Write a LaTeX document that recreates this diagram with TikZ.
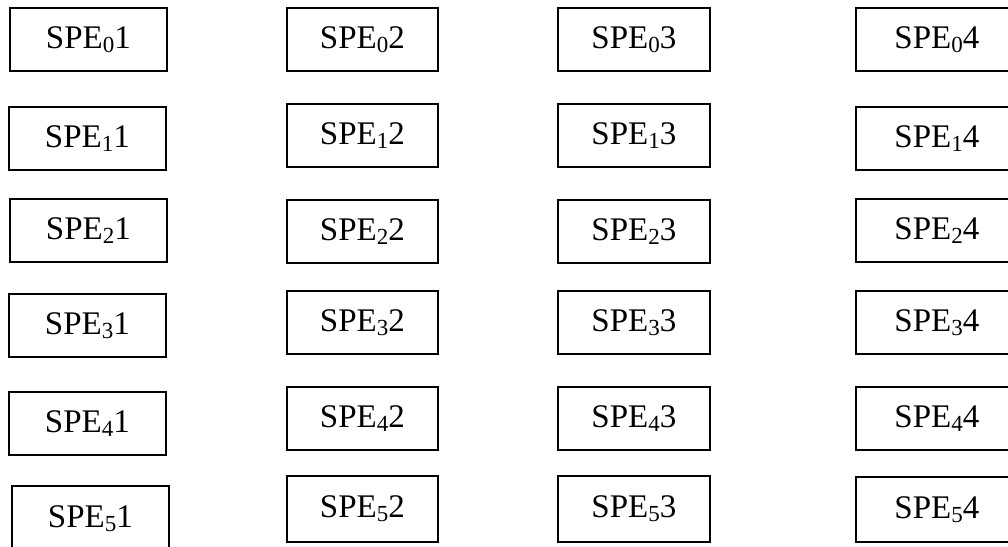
\documentclass[tikz,border=0pt]{standalone}
\usepackage{fontspec}
\setmainfont{Liberation Serif}
% lowered, smaller index digit
\newcommand{\spesub}[1]{\raisebox{-0.12em}{\fontsize{23}{23}\selectfont #1}}
\tikzset{
  spebox/.style={draw, line width=1.7pt, anchor=north west, inner sep=0pt,
    minimum height=63pt, font=\fontsize{33}{40}\selectfont},
  colA/.style={spebox, minimum width=157pt},
  colB/.style={spebox, minimum width=151pt},
  colC/.style={spebox, minimum width=152pt},
  colD/.style={spebox, minimum width=162pt},
}
\begin{document}
\begin{tikzpicture}[x=1pt,y=1pt]
\useasboundingbox (0,0) rectangle (1008,-546);
\clip (0,0) rectangle (1008,-546);
\fill[white] (0,0) rectangle (1008,-546);
% first column
\node[colA] (s01) at (9,-7)   {SPE\spesub{0}1};
\node[colA] (s11) at (8,-106) {SPE\spesub{1}1};
\node[colA] (s21) at (9,-198) {SPE\spesub{2}1};
\node[colA] (s31) at (8,-293) {SPE\spesub{3}1};
\node[colA] (s41) at (8,-391) {SPE\spesub{4}1};
\node[colA, minimum height=66pt] (s51) at (11,-485) {SPE\spesub{5}1};
% second column
\node[colB] (s02) at (286,-7)   {SPE\spesub{0}2};
\node[colB] (s12) at (286,-103) {SPE\spesub{1}2};
\node[colB] (s22) at (286,-199) {SPE\spesub{2}2};
\node[colB] (s32) at (286,-290) {SPE\spesub{3}2};
\node[colB] (s42) at (286,-386) {SPE\spesub{4}2};
\node[colB, minimum height=66pt] (s52) at (286,-475) {SPE\spesub{5}2};
% third column
\node[colC] (s03) at (557,-7)   {SPE\spesub{0}3};
\node[colC] (s13) at (557,-103) {SPE\spesub{1}3};
\node[colC] (s23) at (557,-199) {SPE\spesub{2}3};
\node[colC] (s33) at (557,-290) {SPE\spesub{3}3};
\node[colC] (s43) at (557,-386) {SPE\spesub{4}3};
\node[colC, minimum height=66pt] (s53) at (557,-475) {SPE\spesub{5}3};
% fourth column
\node[colD] (s04) at (855,-7)   {SPE\spesub{0}4};
\node[colD] (s14) at (855,-106) {SPE\spesub{1}4};
\node[colD] (s24) at (855,-198) {SPE\spesub{2}4};
\node[colD] (s34) at (855,-290) {SPE\spesub{3}4};
\node[colD] (s44) at (855,-386) {SPE\spesub{4}4};
\node[colD, minimum height=65pt] (s54) at (855,-476) {SPE\spesub{5}4};
\end{tikzpicture}
\end{document}
